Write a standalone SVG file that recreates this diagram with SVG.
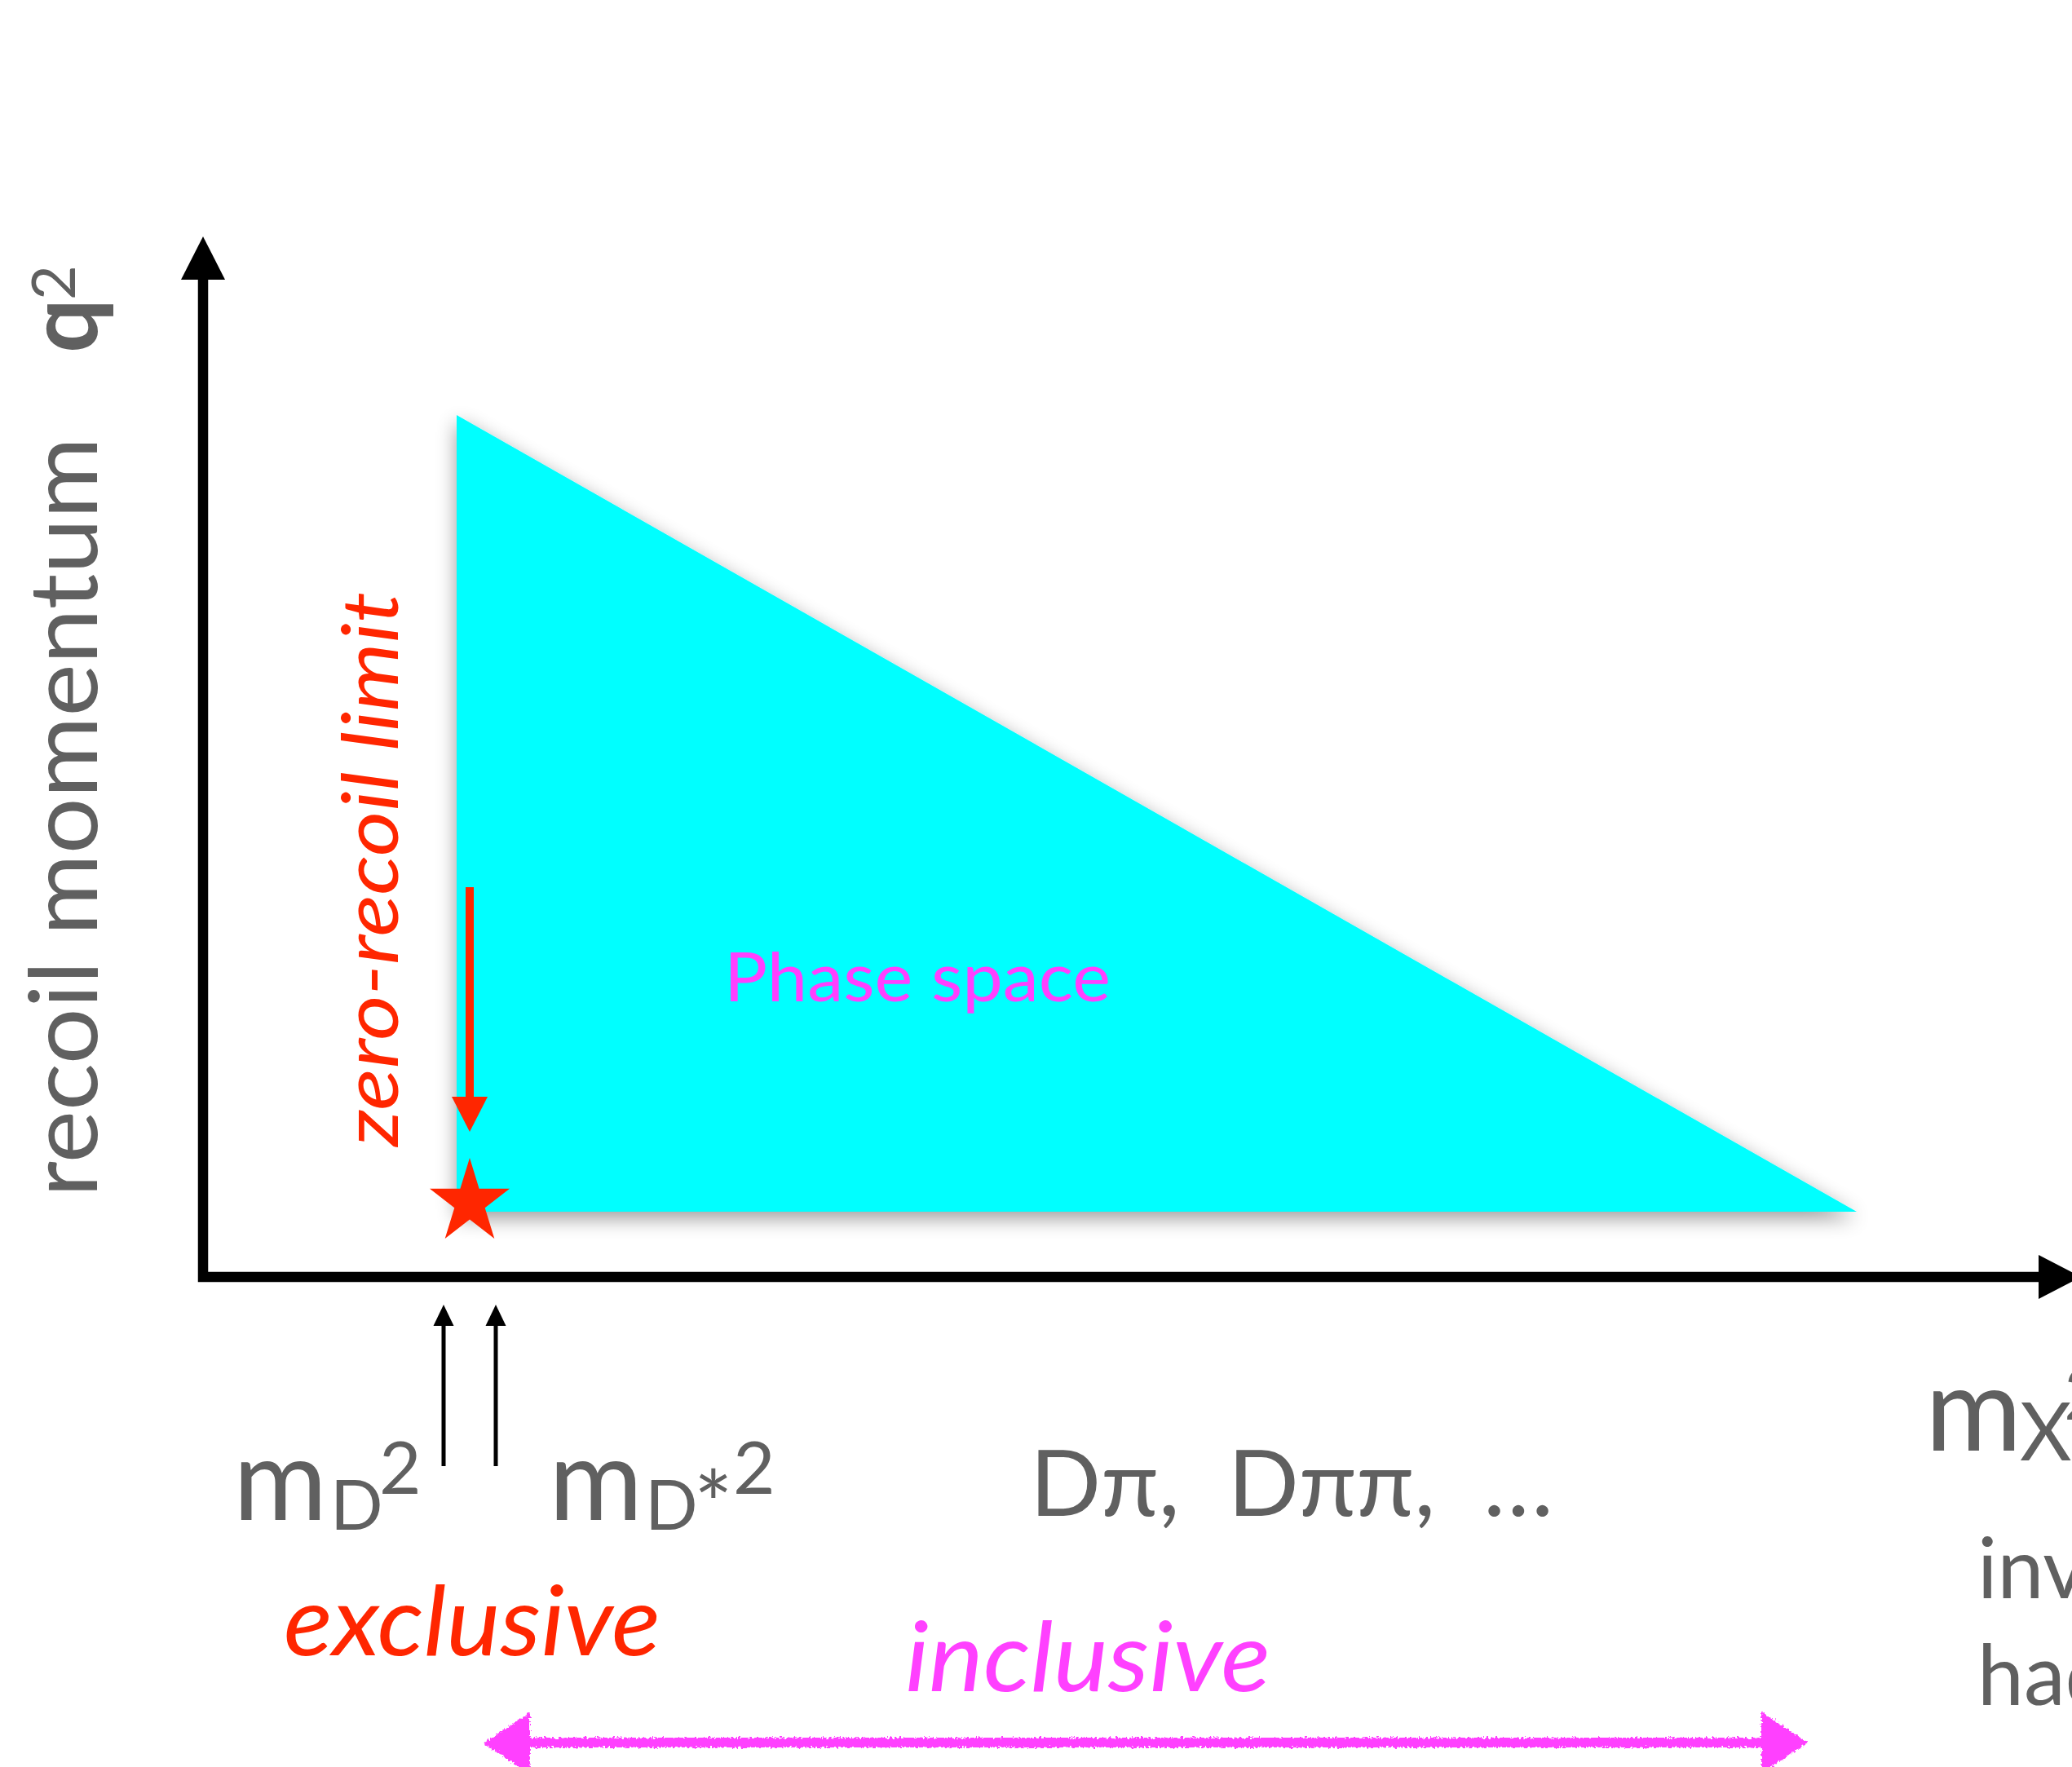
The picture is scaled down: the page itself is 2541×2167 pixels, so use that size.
<svg xmlns="http://www.w3.org/2000/svg" width="2541" height="2167" viewBox="0 0 2541 2167">
  <defs>
    <style>
      .gray { fill: #606060; font-family: Lato, "Open Sans", "Liberation Sans", sans-serif; }
      .red { fill: #FF2600; }
      .mag { fill: #FF40FF; }
      .ital { font-family: Lato, "Open Sans", "Liberation Sans", sans-serif; font-style: italic; }
    </style>
    <filter id="shadow" x="-10%" y="-10%" width="125%" height="130%">
      <feGaussianBlur in="SourceAlpha" stdDeviation="12"/>
      <feOffset dx="0" dy="8" result="b"/>
      <feComponentTransfer in="b" result="s">
        <feFuncA type="linear" slope="0.4"/>
      </feComponentTransfer>
      <feMerge>
        <feMergeNode in="s"/>
        <feMergeNode in="SourceGraphic"/>
      </feMerge>
    </filter>
    <filter id="chalk" x="-5%" y="-50%" width="110%" height="200%">
      <feTurbulence type="fractalNoise" baseFrequency="0.35" numOctaves="2" seed="3" result="n"/>
      <feDisplacementMap in="SourceGraphic" in2="n" scale="7" xChannelSelector="R" yChannelSelector="G"/>
    </filter>
  </defs>
  <rect width="2541" height="2167" fill="#FFFFFF"/>

  <g id="phase-space">
    <polygon points="560,509 560,1486 2277,1486" fill="#00FFFF" filter="url(#shadow)"/>
    <text x="888" y="1228" class="mag" font-family="Lato, 'Open Sans', 'Liberation Sans', sans-serif" font-size="84" textLength="474" lengthAdjust="spacingAndGlyphs">Phase space</text>
  </g>

  <g id="axes">
    <polyline points="249,340 249,1566 2502,1566" fill="none" stroke="#000" stroke-width="12.5" stroke-linejoin="miter"/>
    <polygon points="249,290 276,343 222,343" fill="#000"/>
    <polygon points="2552,1566 2500,1539 2500,1593" fill="#000"/>
  </g>

  <g id="y-label">
    <text class="gray" transform="translate(119,1468) rotate(-90)" font-size="116" font-weight="400" textLength="932" lengthAdjust="spacingAndGlyphs">recoil momentum</text>
    <text class="gray" transform="translate(119,433) rotate(-90)" font-size="118" font-weight="700">q</text>
    <text class="gray" transform="translate(92,368) rotate(-90)" font-size="74">2</text>
  </g>

  <g id="zero-recoil">
    <text class="ital red" transform="translate(488,1406) rotate(-90)" font-size="95" textLength="680" lengthAdjust="spacingAndGlyphs">zero-recoil limit</text>
    <polygon id="star" class="red" points="576,1420 587.6,1457.8 625,1457.8 594.7,1481.2 606.3,1519 576,1495.6 545.7,1519 557.3,1481.2 527,1457.8 564.4,1457.8"/>
  </g>

  <g id="x-labels">
    <g id="mD2">
      <text class="gray" x="286" y="1864" font-size="140">m</text>
      <text class="gray" x="405" y="1876" font-size="85">D</text>
      <text class="gray" x="465" y="1832" font-size="89">2</text>
    </g>
    <g id="mDstar2">
      <text class="gray" x="673" y="1864" font-size="140">m</text>
      <text class="gray" x="791" y="1876" font-size="85">D</text>
      <text class="gray" x="851" y="1886" font-size="112">*</text>
      <text class="gray" x="899" y="1832" font-size="89">2</text>
    </g>
    <text id="dpi" class="gray" x="1263" y="1859" font-size="112" xml:space="preserve" textLength="642" lengthAdjust="spacingAndGlyphs">Dπ,  Dππ,  …</text>
    <g id="mX2">
      <text class="gray" x="2361" y="1779" font-size="144">m</text>
      <text class="gray" x="2477" y="1791" font-size="98">X</text>
      <text class="gray" x="2531" y="1741" font-size="89">2</text>
    </g>
    <text class="gray" x="2425" y="1960" font-size="102">inv</text>
    <text class="gray" x="2425" y="2091" font-size="102">had</text>
    <text id="exclusive" class="ital red" x="348" y="2030" font-size="118" textLength="462" lengthAdjust="spacingAndGlyphs">exclusive</text>
    <text id="inclusive" class="ital mag" x="1110" y="2074" font-size="118" textLength="448" lengthAdjust="spacingAndGlyphs">inclusive</text>
  </g>

  <g id="connectors">
    <line x1="576" y1="1088" x2="576" y2="1347" stroke="#FF2600" stroke-width="10"/>
    <polygon points="554,1345 598,1345 576,1388" fill="#FF2600"/>
    <line x1="544" y1="1624" x2="544" y2="1798" stroke="#000" stroke-width="5"/>
    <polygon points="544,1600 556.5,1626 531.5,1626" fill="#000"/>
    <line x1="608" y1="1624" x2="608" y2="1798" stroke="#000" stroke-width="5"/>
    <polygon points="608,1600 620.5,1626 595.5,1626" fill="#000"/>
    <g id="inclusive-range" filter="url(#chalk)" fill="#FF40FF">
      <rect x="645" y="2131" width="1520" height="12"/>
      <polygon points="593,2138 650,2100 650,2176"/>
      <polygon points="2217,2137 2160,2099 2160,2175"/>
    </g>
  </g>
</svg>
